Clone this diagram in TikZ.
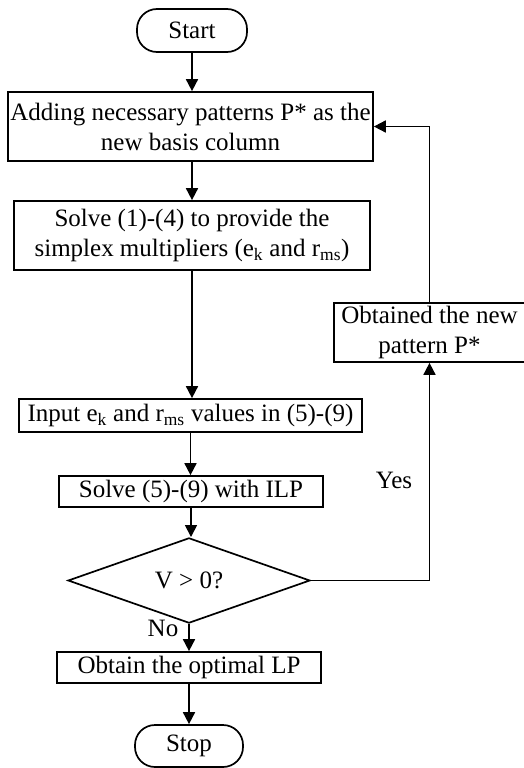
\documentclass[tikz,border=0pt]{standalone}
\usepackage{fontspec}
\setmainfont{Liberation Serif}
\usetikzlibrary{shapes.geometric,arrows.meta}
\begin{document}
\begin{tikzpicture}[x=1pt,y=-1pt,
  every node/.style={font=\fontsize{25}{30}\selectfont, align=center, inner sep=0pt},
  box/.style={draw, line width=1.7pt, rectangle},
  term/.style={draw, line width=1.7pt, rectangle, rounded corners=20pt},
  dec/.style={draw, line width=1.7pt, diamond},
  arr/.style={line width=1.7pt, -{Triangle[length=12pt,width=12pt]}}]
\useasboundingbox (0,0) rectangle (523,768);
\node[term, minimum width=110, minimum height=43] (start) at (192,30.5) {Start};
\node[box, minimum width=365, minimum height=69] (add) at (190.5,126.5) {Adding necessary patterns P* as the\\new basis column};
\node[box, minimum width=356, minimum height=69] (solve) at (192,235.5) {Solve (1)-(4) to provide the\\simplex multipliers (e\textsubscript{k} and r\textsubscript{ms})};
\node[box, minimum width=343, minimum height=33] (input) at (190.5,415.5) {Input e\textsubscript{k} and r\textsubscript{ms} values in (5)-(9)};
\node[box, minimum width=264, minimum height=31] (ilp) at (191,491.5) {Solve (5)-(9) with ILP};
\node[dec, minimum width=242, minimum height=57] (dec) at (189,580.5) {V > 0?};
\node[box, minimum width=264, minimum height=31] (opt) at (189,667.5) {Obtain the optimal LP};
\node[term, minimum width=108, minimum height=42] (stop) at (189,746) {Stop};
\node[box, minimum width=191, minimum height=59] (obt) at (429.5,332.5) {Obtained the new\\pattern P*};
\node (yes) at (394,480) {Yes};
\node (no) at (163,628) {No};
\draw[arr] (start.south) -- (start.south |- add.north);
\draw[arr] (add.south -| solve.north) -- (solve.north);
\draw[arr] (solve.south) -- (solve.south |- input.north);
\draw[arr] (input.south) -- (input.south |- ilp.north);
\draw[arr] (ilp.south) -- (ilp.south |- dec.north);
\draw[arr] (dec.south) -- (dec.south |- opt.north);
\draw[arr] (opt.south) -- (opt.south |- stop.north);
\draw[arr] (dec.east) -| (obt.south);
\draw[arr] (obt.north) |- (add.east);
\end{tikzpicture}
\end{document}
